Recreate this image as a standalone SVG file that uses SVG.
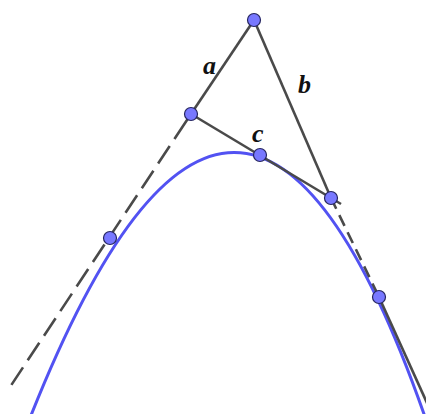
<svg xmlns="http://www.w3.org/2000/svg" width="426" height="414" viewBox="0 0 426 414">
  <style>
    .ln { stroke: #4a4a4a; stroke-width: 2.6; fill: none; stroke-linecap: butt; }
    .dashA { stroke-dasharray: 30 8.5 21 8.5 21 8.5 21 8.5 21 8.5 21 8.5 21 8.5 21 8.5 21 8.5 21 8.5 21 8.5; }
    .dashB { stroke-dasharray: 12 7; }
    .curve { stroke: #5252f2; stroke-width: 3; fill: none; }
    .pt { fill: #7878ff; stroke: #262660; stroke-width: 1.2; }
    .lbl { font-family: "Liberation Serif", "Times New Roman", serif; font-style: italic; font-weight: bold; font-size: 26px; fill: #111; }
  </style>
  <rect width="426" height="414" fill="#ffffff"/>
  <g id="parabola">
    <path class="curve" d="M23.6,434.3 Q241.1,-129.9 431.3,435.3"/>
  </g>
  <g id="connectors">
    <line id="seg-a" class="ln" x1="254" y1="20" x2="191" y2="114"/>
    <line id="seg-b" class="ln" x1="254" y1="20" x2="331" y2="198"/>
    <line id="seg-c" class="ln" x1="191" y1="114" x2="341" y2="204"/>
    <line id="tangent-a-dashed" class="ln dashA" x1="191" y1="114" x2="10" y2="387"/>
    <line id="tangent-b-dashed" class="ln dashB" x1="331" y1="198" x2="379" y2="297"/>
    <line id="tangent-b-solid" class="ln" x1="379" y1="297" x2="432" y2="414"/>
  </g>
  <g id="labels">
    <text class="lbl" x="203" y="74">a</text>
    <text class="lbl" x="298" y="93">b</text>
    <text class="lbl" x="252" y="142">c</text>
  </g>
  <g id="points">
    <circle id="P-top" class="pt" cx="254" cy="20" r="6.5"/>
    <circle id="P-a" class="pt" cx="191" cy="114" r="6.5"/>
    <circle id="P-c" class="pt" cx="260" cy="155" r="6.5"/>
    <circle id="P-b" class="pt" cx="331" cy="198" r="6.5"/>
    <circle id="T-left" class="pt" cx="110" cy="238" r="6.5"/>
    <circle id="T-right" class="pt" cx="379" cy="297" r="6.5"/>
  </g>
</svg>
